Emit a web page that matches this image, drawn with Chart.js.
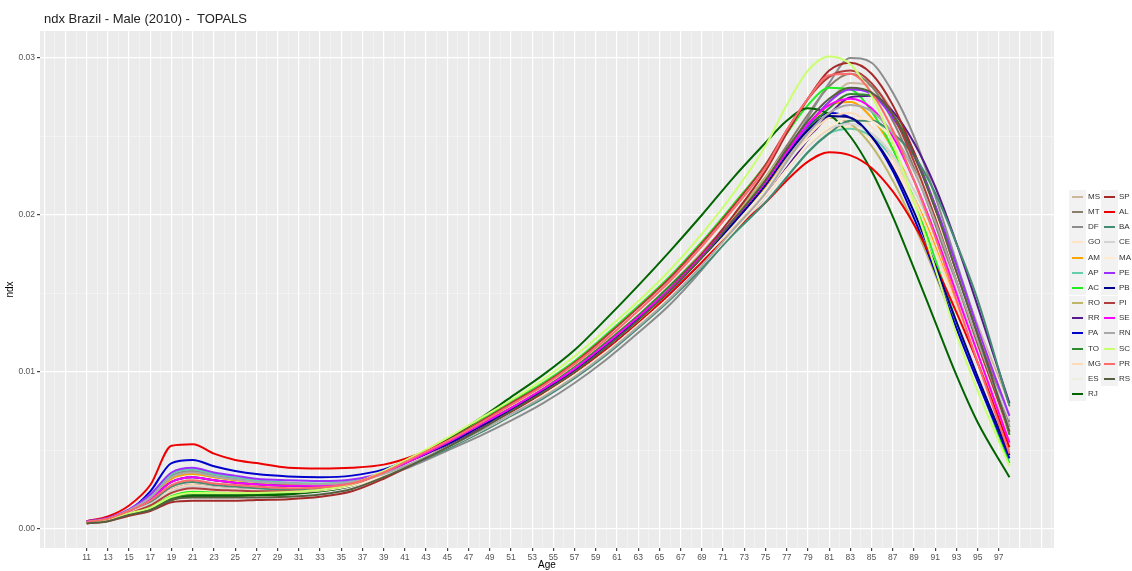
<!DOCTYPE html>
<html>
<head>
<meta charset="utf-8">
<script src="https://cdn.jsdelivr.net/npm/chart.js@4/dist/chart.umd.min.js"></script>
<style>
  body { margin: 0; background: #fff; font-family: "Liberation Sans", Arial, sans-serif; }
  #wrap { position: relative; width: 1132px; height: 571px; overflow: hidden; }
  #grafico { position: absolute; left: 0; top: 0; }
  #titulo { position: absolute; left: 44px; top: 11px; font-size: 13px; color: #222; white-space: pre; }
  .chave { position: absolute; width: 17px; height: 15px; background: #f2f2f2; }
  .chave span { position: absolute; left: 3px; top: 6.5px; width: 11px; height: 2px; }
  .rotulo { position: absolute; font-size: 8px; color: #333; line-height: 10px; }
</style>
</head>
<body>
<div id="wrap">
  <canvas id="grafico" width="1132" height="571"></canvas>
  <div id="titulo">ndx Brazil - Male (2010) -  TOPALS</div>
  <div id="legenda"></div>
</div>
<script>
// idades (anos) e ndx em unidades de 1e-4
var idades = [11,13,15,17,19,21,23,25,27,30,33,36, 39,42,45,48,51,54,57,60,63,66,69,72, 75,77,79,81,83,85,87,89,91,93,95,98];

var MS = [4.5,6.5,11,17,27,30,28,27,26,25,26,29, 35,44,54,64,75,87,100,115,132,150,171,194, 218,236,254,272,284,282,266,240,206,168,130,80];
var MT = [4.5,6.5,11,16,25,28,26.5,25.5,25,24.5,25.5,28.5, 36,45,55,66,77,89,103,119,136,155,176,199, 224,244,264,282,290,282,260,230,194,154,115,60];
var DF = [4.5,6.5,12,21,34,37,34,32,30.5,29,28.5,29.5, 33.5,41,50,59,69,80,93,108,125,143,165,190, 218,240,262,284,300,297,278,250,212,170,128,68];
var GO = [4.5,6.5,11,16,26,29,27,26,25,24.5,25.5,28.5, 36,45,54,65,76,87,101,116,133,151,171,193, 214,230,244,254,256,248,232,208,178,144,110,58];
var AM = [4.5,6.5,12,20,32,35,33,31,30,28.5,28.5,30, 35,44,53,63,74,86,99,114,131,149,170,193, 218,238,256,270,272,262,242,214,180,143,106,55];
var AP = [4.5,6.5,12,21,35,38,35,33,31,29.5,29,30.5, 35,44,53,63,74,86,99,114,130,147,167,188, 208,224,240,252,255,250,236,214,186,152,117,65];
var AC = [4,6,10,14,21,24,23.5,23,23,23,24.5,28, 36,46,57,69,81,93,107,124,142,161,183,207, 232,252,270,281,280,266,242,210,172,132,95,42];
var RO = [4.5,6.5,11,17,27,30,28,27,26,25,26,29, 36,45,55,66,77,89,103,119,136,155,176,199, 224,242,256,262,258,244,222,194,162,128,95,50];
var RR = [4.5,6.5,11,16,25,28,26.5,25.5,25,24.5,25.5,28.5, 35,44,53,64,75,86,100,115,131,149,169,190, 212,230,248,264,275,276,266,246,218,182,142,80];
var PA = [5,7,12,24,42,44,40,37,35,33.5,33,34, 38,46,55,65,76,88,101,117,134,152,173,195, 220,240,256,265,262,250,228,198,164,128,94,45];
var TO = [4,5.5,9.5,13,19.5,22,22,22,22,22.5,24,27.5, 35,45,55,66,77,89,103,119,136,155,175,197, 220,238,255,268,277,276,264,240,206,166,124,60];
var MG = [4.5,6.5,11,16,25,28,26.5,25.5,25,24.5,25.5,28.5, 36,44,54,65,76,87,101,116,133,151,171,193, 216,234,250,262,265,256,236,210,178,142,106,55];
var ES = [4.5,6.5,11,17,27,30,28,27,26,25,26,29, 36,45,55,65,76,88,102,117,134,152,172,194, 216,233,248,259,262,255,238,214,184,150,114,62];
var RJ = [4,5.5,9,12,18.5,21,21,21,21.5,22,24,27.5, 36,46,57,70,84,98,114,134,155,177,200,224, 246,260,268,264,250,228,199,166,132,98,68,33];
var SP = [3.5,5,8.5,11.5,17,18,18,18,18.5,19,20.5,24, 32,42,52,63,74,86,100,116,134,153,175,200, 228,252,274,292,297,290,270,240,204,164,124,65];
var AL = [5,8,15,28,53,54,48,44,42,39,38.5,39, 41,47,56,65,75,86,99,114,131,150,170,190, 208,222,234,240,238,230,215,194,168,138,106,52];
var BA = [4.5,6.5,11,17,27,30,28,27,26,25,25.5,28, 34,42,51,61,72,83,96,111,128,146,166,188, 208,224,240,252,260,260,252,238,214,182,146,78];
var CE = [4.5,6.5,11,16,24,27,26,25,24.5,24,25,28, 35,43,52,62,73,85,98,113,130,148,168,190, 212,229,244,255,258,252,238,216,188,154,118,70];
var MA = [4,6,10.5,15,22.5,25,24.5,24,23.5,23.5,24.5,27.5, 34,43,52,62,73,85,98,113,130,148,168,190, 212,229,245,256,262,260,248,228,200,166,128,75];
var PE = [5,7,12.5,22,36,39,36,34,32,31,30.5,31.5, 36,45,54,65,76,88,101,117,134,152,173,196, 220,239,257,272,280,277,262,238,206,168,128,72];
var PB = [4.5,6.5,11.5,19,30,33,31,29.5,28.5,27.5,27.5,29.5, 36,45,54,65,76,88,101,117,134,152,173,195, 219,238,254,263,262,250,230,202,168,132,97,47];
var PI = [4,6,10,15,23,26,25,24.5,24,24,25,28.5, 36,46,56,68,80,92,106,123,141,160,182,206, 232,254,274,288,292,284,264,234,198,158,118,62];
var SE = [4.5,6.5,11.5,19,30,33,31,29.5,28.5,27.5,27.5,29.5, 36,45,55,66,77,89,102,118,135,153,174,197, 221,240,258,270,274,268,250,222,188,150,112,55];
var RN = [4.5,6.5,12,20,33,36,33.5,31.5,30,29,28.5,30, 35,43,52,62,73,84,97,112,129,147,168,191, 214,234,252,265,270,266,252,228,196,158,120,65];
var SC = [4,6,10,13.5,20.5,23,23,23,23,23.5,25,28.5, 37,47,58,70,82,95,110,127,145,165,188,214, 244,270,292,301,296,276,246,208,166,124,88,40];
var PR = [4.5,6.5,11.5,18,28,31,29,28,27,26,26.5,29, 36,46,56,67,79,91,105,121,139,158,180,204, 230,254,274,289,290,278,254,222,186,146,106,48];
var RS = [3.5,5,9,12,18.5,20,20,20,20,20.5,22,25.5, 33,42,52,63,75,87,100,116,133,152,173,197, 222,242,260,274,281,278,264,238,204,164,124,62];

var estados = ['MS','MT','DF','GO','AM','AP','AC','RO','RR','PA','TO','MG','ES','RJ',
               'SP','AL','BA','CE','MA','PE','PB','PI','SE','RN','SC','PR','RS'];
var series = [MS,MT,DF,GO,AM,AP,AC,RO,RR,PA,TO,MG,ES,RJ,SP,AL,BA,CE,MA,PE,PB,PI,SE,RN,SC,PR,RS];
var cores = ['#cdb79e','#8b7d6b','#8c8c8c','#ffe4c4','#ffa500','#66cdaa','#22ee22','#bdb76b','#551a8b','#0000cd','#2e8b2e','#ffdab9','#eeeee0','#006400',
             '#a52a2a','#ee0000','#458b74','#d3d3d3','#ffebcd','#9b30ff','#00008b','#b03c3c','#ff00ff','#a9a9a9','#caff70','#ff6a6a','#556040'];

var yTicks = [0, 0.005, 0.01, 0.015, 0.02, 0.025, 0.03];

function ehMaior(v) { return Math.abs(v * 100 - Math.round(v * 100)) < 1e-6; }

var painel = {
  id: 'painel',
  beforeDraw: function(chart) {
    var a = chart.chartArea, ctx = chart.ctx;
    ctx.save();
    ctx.fillStyle = '#ebebeb';
    ctx.fillRect(a.left, a.top, a.right - a.left, a.bottom - a.top);
    ctx.restore();
  }
};

var datasets = estados.map(function(uf, i) {
  return {
    label: uf,
    data: idades.map(function(x, j) { return { x: x, y: series[i][j] / 10000 }; }),
    borderColor: cores[i],
    backgroundColor: cores[i],
    borderWidth: 2,
    pointRadius: 0,
    cubicInterpolationMode: 'monotone',
    fill: false,
    order: -i
  };
});

new Chart(document.getElementById('grafico'), {
  type: 'line',
  data: { datasets: datasets },
  plugins: [painel],
  options: {
    responsive: false,
    animation: false,
    layout: { padding: { top: 31, right: 78, left: 0, bottom: 0 } },
    plugins: { legend: { display: false }, title: { display: false }, tooltip: { enabled: false } },
    scales: {
      x: {
        type: 'linear',
        min: 6.6,
        max: 102.2,
        afterBuildTicks: function(scale) {
          var t = [];
          for (var v = 7; v <= 102; v++) t.push({ value: v });
          scale.ticks = t;
        },
        afterFit: function(scale) { scale.height = 23; },
        border: { display: false },
        grid: {
          color: function(c) { return c.tick && c.tick.value % 2 === 1 ? '#ffffff' : 'rgba(255,255,255,0.5)'; },
          lineWidth: function(c) { return c.tick && c.tick.value % 2 === 1 ? 1.2 : 0.7; },
          tickColor: function(c) { var v = c.tick && c.tick.value; return (v % 2 === 1 && v >= 11 && v <= 97) ? '#444' : 'rgba(0,0,0,0)'; },
          tickLength: 3
        },
        ticks: {
          autoSkip: false, maxRotation: 0, padding: 2,
          color: '#555', font: { size: 8.5, family: '"Liberation Sans", Arial' },
          callback: function(v) { return (v % 2 === 1 && v >= 11 && v <= 97) ? String(v) : ''; }
        },
        title: { display: true, text: 'Age', color: '#000', padding: 0, font: { size: 10, family: '"Liberation Sans", Arial' } }
      },
      y: {
        min: -0.00121,
        max: 0.03172,
        afterBuildTicks: function(scale) {
          scale.ticks = yTicks.map(function(v) { return { value: v }; });
        },
        afterFit: function(scale) { scale.width = 40; },
        border: { display: false },
        grid: {
          color: function(c) { return c.tick && ehMaior(c.tick.value) ? '#ffffff' : 'rgba(255,255,255,0.5)'; },
          lineWidth: function(c) { return c.tick && ehMaior(c.tick.value) ? 1.2 : 0.7; },
          tickColor: function(c) { return c.tick && ehMaior(c.tick.value) ? '#444' : 'rgba(0,0,0,0)'; },
          tickLength: 3
        },
        ticks: {
          padding: 2, color: '#555', font: { size: 8.5, family: '"Liberation Sans", Arial' },
          callback: function(v) { return ehMaior(v) ? v.toFixed(2) : ''; }
        },
        title: { display: true, text: 'ndx', color: '#000', padding: { top: 4, bottom: 0 }, font: { size: 10, family: '"Liberation Sans", Arial' } }
      }
    }
  }
});

// legenda em duas colunas
var leg = document.getElementById('legenda');
estados.forEach(function(uf, i) {
  var col = i < 14 ? 0 : 1, lin = i < 14 ? i : i - 14;
  var cy = 197 + lin * 15.15;
  var k = document.createElement('div');
  k.className = 'chave';
  k.style.left = (1069 + col * 32) + 'px';
  k.style.top = (cy - 7.5) + 'px';
  var s = document.createElement('span');
  s.style.background = cores[i];
  k.appendChild(s);
  leg.appendChild(k);
  var r = document.createElement('div');
  r.className = 'rotulo';
  r.textContent = uf;
  r.style.left = (1088 + col * 31) + 'px';
  r.style.top = (cy - 5) + 'px';
  leg.appendChild(r);
});
</script>
</body>
</html>
